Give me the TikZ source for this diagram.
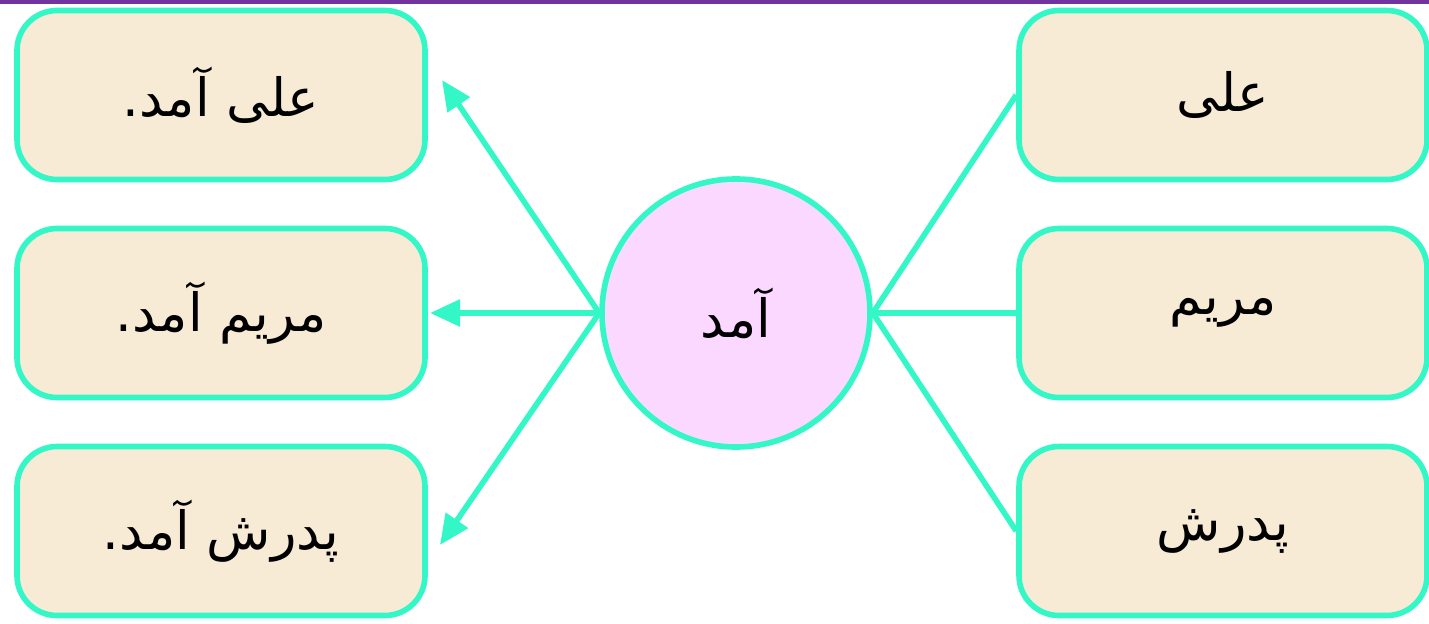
\documentclass[tikz,border=0pt]{standalone}
\usepackage{fontspec}
\usetikzlibrary{arrows.meta}
\newfontfamily\arabicfont[Script=Arabic]{DejaVu Sans}
\TeXXeTstate=1
\definecolor{linegreen}{HTML}{33F7C6}
\definecolor{boxfill}{HTML}{F7EBD6}
\definecolor{circfill}{HTML}{FBD8FF}
\definecolor{barpurple}{HTML}{7233A0}
\begin{document}
\begin{tikzpicture}[
    wordbox/.style={draw=linegreen, fill=boxfill, line width=1.6pt, rounded corners=0.4cm,
        minimum width=4.08cm, minimum height=1.69cm, font=\arabicfont\fontsize{15}{18}\selectfont},
    verbnode/.style={draw=linegreen, fill=circfill, line width=1.6pt, circle,
        minimum size=2.68cm, font=\arabicfont\fontsize{15}{18}\selectfont},
    link/.style={linegreen, line width=1.6pt},
    node distance=2.18cm
  ]
                \useasboundingbox (0,0) rectangle (14.29,6.23);
                \fill[barpurple] (0,6.19) rectangle (14.29,6.23);

                \node[wordbox] (l1) at (2.21,5.28) {\beginR علی آمد.\endR};
                \node[wordbox, below of=l1] (l2) {\beginR مریم آمد.\endR};
                \node[wordbox, below of=l2] (l3) {\beginR پدرش آمد.\endR};

                \node[wordbox, right of=l1, node distance=10.02cm] (r1) {\beginR علی\endR};
                \node[wordbox, below of=r1] (r2) {\beginR مریم\endR};
                \node[wordbox, below of=r2] (r3) {\beginR پدرش\endR};

                \node[verbnode] (c) at (7.36,3.10) {\beginR آمد\endR};

                \coordinate (t1) at (4.42,5.43);
                \coordinate (t2) at (4.30,3.10);
                \coordinate (t3) at (4.40,0.78);

                \draw[link, -{Triangle[length=0.3cm,width=0.26cm]}] (c.west) -- (t1);
                \draw[link, -{Triangle[length=0.3cm,width=0.26cm]}] (c.west) -- (t2);
                \draw[link, -{Triangle[length=0.3cm,width=0.26cm]}] (c.west) -- (t3);
                \draw[link] (c.east) -- (r1.west);
                \draw[link] (c.east) -- (r2.west);
                \draw[link] (c.east) -- (r3.west);
            \end{tikzpicture}
\end{document}
